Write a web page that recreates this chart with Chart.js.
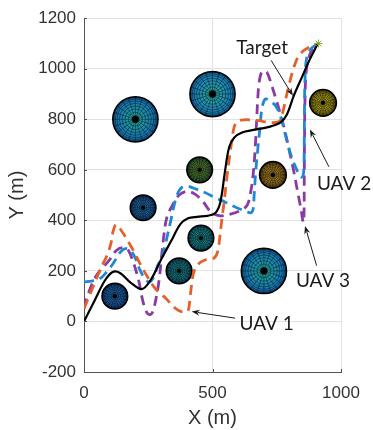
<!DOCTYPE html>
<html><head><meta charset="utf-8">
<script src="https://cdn.jsdelivr.net/npm/chart.js@4.4.1/dist/chart.umd.min.js"></script>
<style>html,body{margin:0;padding:0;background:#fff;}#wrap{width:373px;height:430px;}</style>
</head><body><div id="wrap"><canvas id="c" width="373" height="430"></canvas></div>
<script>
// ---- data ----
const xTicks = [0, 500, 1000];
const yTicks = [-200, 0, 200, 400, 600, 800, 1000, 1200];

const targetX = [0,40,80,110,140,180,225,260,300,340,375,405,440,480,510,530,548,565,585,615,660,720,765,790,815,845,880,910];
const targetY = [0,80,160,195,192,155,128,165,245,320,385,408,414,418,428,470,590,690,728,748,758,770,788,820,890,960,1040,1100];

const uav1X = [0,20,43,70,90,105,113,125,145,170,195,220,245,270,295,320,345,370,390,405,412,418,426,440,470,505,520,528,536,546,556,566,576,584,596,620,680,720,760,772,786,800,815,832,855,882,910];
const uav1Y = [50,100,156,220,262,310,355,383,360,320,275,225,180,140,112,90,62,42,38,42,90,140,190,222,243,250,275,330,400,480,570,650,720,768,790,798,795,787,792,822,885,945,1000,1045,1072,1088,1100];

const uav2X = [0,30,60,90,115,140,160,180,198,215,235,255,272,287,302,320,340,360,378,400,430,470,510,550,590,630,650,658,662,668,676,684,692,705,725,748,768,788,808,828,843,852,856,857,858,860,866,882,908];
const uav2Y = [156,160,168,198,232,272,288,282,255,210,172,156,178,222,250,320,410,495,528,536,526,510,490,472,452,436,430,445,500,590,680,760,840,880,872,850,800,720,650,600,572,575,620,720,850,960,1040,1078,1098];

const uav3X = [0,10,30,50,75,100,125,150,170,190,212,228,242,256,268,282,293,302,312,322,340,370,400,430,460,495,530,570,610,635,650,660,667,672,676,682,694,712,730,750,770,785,800,815,830,845,853,856,857,858,860,866,884,908];
const uav3Y = [52,90,145,185,215,245,280,292,285,240,165,85,40,27,40,100,170,260,350,410,452,500,515,505,478,432,418,425,440,460,520,600,700,800,880,950,990,985,935,870,800,740,670,600,520,440,392,420,560,720,880,1000,1070,1095];

const goalX = [912];
const goalY = [1100];

// obstacles (centre and radius in metres)
const obsX = [200,500,700,120,230,370,455,450,735,930];
const obsY = [800,900,200,100,450,200,330,600,580,865];
const obsR = [88,88,88,50,50,50,50,50,52,52];

// annotations
const noteText  = ['Target','UAV 1','UAV 2','UAV 3'];
const noteX     = [693, 711, 1012, 930];
const noteY     = [1060, -32, 522, 136];
const tailX     = [728, 588, 953, 905];
const tailY     = [1033, 13, 612, 221];
const tipX      = [813, 419, 879, 860];
const tipY      = [893, 39, 760, 378];

// ---- styles ----
const obsInner = ['#27b0a2','#2ab4a6','#27b0a2','#2a80d0','#2a86c8','#1fa0a0','#22a8a8','#6ea040','#d0a030','#d8c820'];
const obsOuter = ['#1468b2','#1670b5','#1468b2','#1a4a90','#1a4a88','#155a72','#156878','#2e5a30','#7a5a18','#7a7010'];
const FONT = '"Liberation Sans", Arial, Helvetica, sans-serif';

const pts = (xs, ys) => xs.map((x, i) => ({x: x, y: ys[i]}));

function drawSphere(ctx, px, py, pr, inner, outer) {
  ctx.save();
  const g = ctx.createRadialGradient(px, py, 0, px, py, pr);
  g.addColorStop(0, inner); g.addColorStop(1, outer);
  ctx.beginPath(); ctx.arc(px, py, pr, 0, Math.PI * 2);
  ctx.fillStyle = g; ctx.fill();
  ctx.clip();
  ctx.strokeStyle = 'rgba(0,0,0,0.6)'; ctx.lineWidth = 0.7;
  const nLat = 10;
  for (let i = 1; i < nLat; i++) {
    const rr = pr * Math.sin(i * Math.PI / 2 / nLat);
    ctx.beginPath(); ctx.arc(px, py, rr, 0, Math.PI * 2); ctx.stroke();
  }
  const nLon = 20;
  for (let j = 0; j < nLon; j++) {
    const a = j * 2 * Math.PI / nLon;
    ctx.beginPath(); ctx.moveTo(px, py);
    ctx.lineTo(px + pr * Math.cos(a), py + pr * Math.sin(a)); ctx.stroke();
  }
  ctx.restore();
  ctx.beginPath(); ctx.arc(px, py, pr * 0.15, 0, Math.PI * 2);
  ctx.fillStyle = '#000'; ctx.fill();
  ctx.beginPath(); ctx.arc(px, py, pr, 0, Math.PI * 2);
  ctx.lineWidth = 1.5; ctx.strokeStyle = '#000'; ctx.stroke();
}

const obstaclePlugin = {
  id: 'obstacles',
  beforeDatasetsDraw(chart) {
    const {ctx, scales: {x, y}} = chart;
    for (let i = 0; i < obsX.length; i++) {
      const px = x.getPixelForValue(obsX[i]);
      const py = y.getPixelForValue(obsY[i]);
      const pr = Math.abs(x.getPixelForValue(obsX[i] + obsR[i]) - px);
      drawSphere(ctx, px, py, pr, obsInner[i], obsOuter[i]);
    }
  }
};

const tickPlugin = {
  id: 'innerTicks',
  afterDraw(chart) {
    const {ctx, scales: {x, y}, chartArea: a} = chart;
    ctx.save();
    ctx.strokeStyle = '#4d4d4d'; ctx.lineWidth = 1;
    xTicks.forEach(v => { const p = Math.round(x.getPixelForValue(v)) + 0.5;
      ctx.beginPath(); ctx.moveTo(p, a.bottom); ctx.lineTo(p, a.bottom - 3); ctx.stroke(); });
    yTicks.forEach(v => { const p = Math.round(y.getPixelForValue(v)) + 0.5;
      ctx.beginPath(); ctx.moveTo(a.left, p); ctx.lineTo(a.left + 3, p); ctx.stroke(); });
    ctx.restore();
  }
};

const notePlugin = {
  id: 'notes',
  afterDraw(chart) {
    const {ctx, scales: {x, y}} = chart;
    ctx.save();
    for (let i = 0; i < noteText.length; i++) {
      const x0 = x.getPixelForValue(tailX[i]), y0 = y.getPixelForValue(tailY[i]);
      const x1 = x.getPixelForValue(tipX[i]), y1 = y.getPixelForValue(tipY[i]);
      const ang = Math.atan2(y1 - y0, x1 - x0);
      const hl = 8, hw = 3;
      ctx.strokeStyle = '#1a1a1a'; ctx.fillStyle = '#1a1a1a'; ctx.lineWidth = 1;
      ctx.beginPath(); ctx.moveTo(x0, y0);
      ctx.lineTo(x1 - (hl - 2) * Math.cos(ang), y1 - (hl - 2) * Math.sin(ang)); ctx.stroke();
      ctx.beginPath(); ctx.moveTo(x1, y1);
      ctx.lineTo(x1 - hl * Math.cos(ang) + hw * Math.sin(ang), y1 - hl * Math.sin(ang) - hw * Math.cos(ang));
      ctx.lineTo(x1 - (hl - 2.5) * Math.cos(ang), y1 - (hl - 2.5) * Math.sin(ang));
      ctx.lineTo(x1 - hl * Math.cos(ang) - hw * Math.sin(ang), y1 - hl * Math.sin(ang) + hw * Math.cos(ang));
      ctx.closePath(); ctx.fill();
      ctx.font = '19px Lato, "Open Sans", sans-serif';
      ctx.textAlign = 'center'; ctx.textBaseline = 'alphabetic';
      ctx.fillStyle = '#1a1a1a';
      ctx.fillText(noteText[i], x.getPixelForValue(noteX[i]), y.getPixelForValue(noteY[i]));
    }
    ctx.restore();
  }
};

const dashed = (label, xs, ys, color) => ({
  label, data: pts(xs, ys), showLine: true, borderColor: color, backgroundColor: color,
  borderWidth: 2.8, borderDash: [10, 6], pointRadius: 0, tension: 0.35, fill: false
});

new Chart(document.getElementById('c'), {
  type: 'scatter',
  data: {
    datasets: [
      {label: 'Goal', data: pts(goalX, goalY), pointStyle: 'star', pointRadius: 4, borderColor: '#77AC30', borderWidth: 1, showLine: false},
      {label: 'Target', data: pts(targetX, targetY), showLine: true, borderColor: '#000', borderWidth: 2.2, pointRadius: 0, tension: 0.35, fill: false},
      dashed('UAV 1', uav1X, uav1Y, '#E4622A'),
      dashed('UAV 2', uav2X, uav2Y, '#1E88D4'),
      dashed('UAV 3', uav3X, uav3Y, '#8A3BA3')
    ]
  },
  options: {
    responsive: false, animation: false, devicePixelRatio: 1,
    layout: {padding: {top: 13, right: 32, left: 0, bottom: 0}},
    plugins: {legend: {display: false}, tooltip: {enabled: false}},
    scales: {
      x: {
        type: 'linear', min: 0, max: 1000,
        afterBuildTicks: s => { s.ticks = xTicks.map(v => ({value: v})); },
        afterFit: s => { s.height = 58; },
        grid: {color: '#e2e2e2', drawTicks: false, lineWidth: 1},
        border: {color: '#555', width: 1},
        ticks: {font: {family: FONT, size: 17}, color: '#333', padding: 11, callback: v => String(v)},
        title: {display: true, text: 'X (m)', font: {family: FONT, size: 20}, color: '#333', padding: {top: 0, bottom: 0}}
      },
      y: {
        type: 'linear', min: -200, max: 1200,
        afterBuildTicks: s => { s.ticks = yTicks.map(v => ({value: v})); },
        afterFit: s => { s.width = 84; },
        grid: {color: '#e2e2e2', drawTicks: false, lineWidth: 1},
        border: {color: '#555', width: 1},
        ticks: {font: {family: FONT, size: 17}, color: '#333', padding: 8, callback: v => String(v)},
        title: {display: true, text: 'Y (m)', font: {family: FONT, size: 20}, color: '#333', padding: {top: 5, bottom: 5}}
      }
    }
  },
  plugins: [obstaclePlugin, tickPlugin, notePlugin]
});
</script></body></html>
